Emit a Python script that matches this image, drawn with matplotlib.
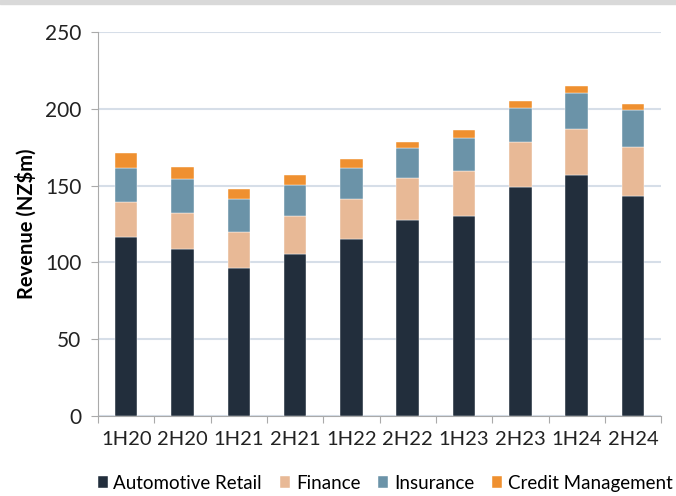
import matplotlib
matplotlib.use('Agg')
import matplotlib.pyplot as plt
import numpy as np

periods    = ['1H20', '2H20', '1H21', '2H21', '1H22', '2H22', '1H23', '2H23', '1H24', '2H24']
automotive = [116.7, 109.0, 96.3, 105.2, 115.4, 127.8, 130.3, 149.2, 156.8, 143.1]
finance    = [22.3, 23.3, 23.6, 24.9, 25.6, 26.8, 29.3, 29.3, 29.7, 32.1]
insurance  = [22.5, 21.7, 21.1, 20.4, 20.5, 20.0, 21.4, 21.7, 23.5, 23.8]
credit     = [9.5, 8.2, 6.9, 6.3, 5.9, 3.9, 5.0, 4.8, 4.7, 4.0]

series = [
    ('Automotive Retail', automotive, '#222e3c'),
    ('Finance',           finance,    '#e8b996'),
    ('Insurance',         insurance,  '#6b93a8'),
    ('Credit Management', credit,     '#ef9030'),
]

plt.rcParams['font.family'] = ['Lato', 'DejaVu Sans']

fig = plt.figure(figsize=(6.76, 4.96), dpi=100)
ax = fig.add_axes([0.145, 0.161, 0.833, 0.775])

# thin grey band along the top edge
fig.patches.append(plt.Rectangle((0, 0.991), 1, 0.009, transform=fig.transFigure,
                                 color='#d9d9d9', zorder=0))

x = np.arange(len(periods))
bottom = np.zeros(len(periods))
for name, vals, col in series:
    ax.bar(x, vals, 0.4, bottom=bottom, color=col, label=name, zorder=3,
           edgecolor='white', linewidth=0.3)
    bottom += np.array(vals)

ax.set_xlim(-0.5, len(periods) - 0.5)
ax.set_ylim(0, 250)
ax.set_yticks(range(0, 251, 50))
ax.set_xticks(x)
ax.set_xticklabels(periods, fontsize=14.5, color='#222222')
ax.tick_params(axis='x', length=0, pad=11)
ax.set_xticks(np.arange(-0.5, len(periods), 1), minor=True)
ax.tick_params(axis='x', which='minor', length=5, color='#aaaaaa', width=0.8)
ax.tick_params(axis='y', labelsize=15, colors='#222222', length=5, pad=7)
ax.tick_params(axis='y', color='#aaaaaa', width=0.8)

ax.grid(axis='y', color='#d6dee8', linewidth=1.5, zorder=0)
for side in ['top', 'right']:
    ax.spines[side].set_visible(False)
for side in ['left', 'bottom']:
    ax.spines[side].set_color('#aaaaaa')
    ax.spines[side].set_linewidth(0.8)

ax.set_ylabel('Revenue (NZ$m)', fontsize=14.5, fontweight='bold', labelpad=6)

ax.legend(loc='upper center', bbox_to_anchor=(0.51, -0.118), ncol=4, frameon=False,
          fontsize=13.5, handlelength=0.55, handleheight=0.55, handletextpad=0.3,
          columnspacing=0.95, borderpad=0.2)

plt.savefig('out.png', dpi=100)
plt.close()
